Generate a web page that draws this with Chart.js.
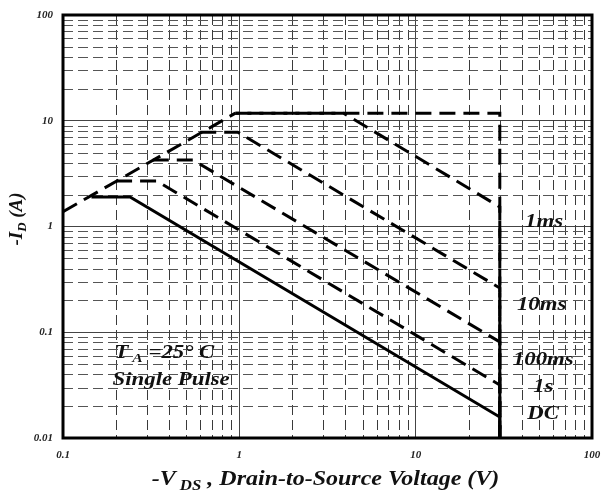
<!DOCTYPE html>
<html>
<head>
<meta charset="utf-8">
<script src="https://cdn.jsdelivr.net/npm/chart.js@4.4.0/dist/chart.umd.min.js"></script>
<style>
    html, body { margin: 0; padding: 0; background: #fff; }
    #wrap { width: 601px; height: 494px; position: relative; }
</style>
</head>
<body>
<div id="wrap"><canvas id="soaChart"></canvas></div>
<script>
// axis ticks
const xTickValues = [0.1, 1, 10, 100];
const xTickLabels = ['0.1', '1', '10', '100'];
const yTickValues = [0.01, 0.1, 1, 10, 100];
const yTickLabels = ['0.01', '0.1', '1', '10', '100'];
const minorSteps = [2, 3, 4, 5, 6, 7, 8, 9];

// curves: -V_DS (V) / -I_D (A)
const rdsLimitV = [0.1, 0.95];
const rdsLimitI = [1.38, 11.8];
const topV = [0.95, 30, 30];
const topI = [11.8, 11.8, 0.01];
const ms1V = [0.95, 3.9, 30, 30];
const ms1I = [11.8, 11.8, 1.53, 0.01];
const ms10V = [0.6, 0.98, 30, 30];
const ms10I = [7.8, 7.8, 0.262, 0.01];
const ms100V = [0.323, 0.545, 30, 30];
const ms100I = [4.26, 4.26, 0.081, 0.01];
const s1V = [0.2, 0.34, 30, 30];
const s1I = [2.69, 2.69, 0.0317, 0.01];
const dcV = [0.145, 0.24, 30, 30];
const dcI = [1.9, 1.9, 0.0158, 0.01];

// text notes, placed in data coordinates (left edge, vertical middle)
const noteTexts = ['1ms', '10ms', '100ms', '1s', 'DC', 'Single Pulse'];
const noteV = [41.7, 37.5, 35.6, 46.4, 42.9, 0.191];
const noteI = [1.10, 0.181, 0.0547, 0.0303, 0.0169, 0.0355];
const tempNoteV = 0.196;
const tempNoteI = 0.064;

const SERIF = '"Liberation Serif", "DejaVu Serif", serif';

class SoaChart {
    constructor() {
        this.canvas = document.getElementById('soaChart');
        this.chart = null;
        this.render();
    }

    points(vs, is) {
        return vs.map((v, i) => ({ x: v, y: is[i] }));
    }

    line(label, vs, is, dashed, dashOffset = 0) {
        return {
            label,
            data: this.points(vs, is),
            showLine: true,
            borderColor: '#000',
            borderWidth: 3,
            borderDash: dashed ? [16, 8] : [],
            borderDashOffset: dashOffset,
            borderCapStyle: 'butt',
            borderJoinStyle: 'miter',
            pointRadius: 0,
            tension: 0,
            fill: false
        };
    }

    minorValues(decades) {
        const out = [];
        decades.slice(0, -1).forEach(d => minorSteps.forEach(s => out.push(d * s)));
        return out;
    }

    // draws runs of text, some of them subscript; sx stretches it sideways
    drawRich(ctx, parts, x, y, size, align, sx) {
        const fontFor = p => `italic bold ${p.sub ? Math.round(size * 0.68) : size}px ${SERIF}`;
        const widths = parts.map(p => {
            ctx.font = fontFor(p);
            return ctx.measureText(p.t).width;
        });
        const total = widths.reduce((a, b) => a + b, 0);
        ctx.save();
        ctx.translate(x, y);
        ctx.scale(sx, 1);
        let cx = align === 'center' ? -total / 2 : 0;
        parts.forEach((p, i) => {
            ctx.font = fontFor(p);
            ctx.fillText(p.t, cx, p.sub ? size * 0.32 : 0);
            cx += widths[i];
        });
        ctx.restore();
    }

    decorPlugin() {
        const self = this;
        return {
            id: 'soaDecor',
            beforeDatasetsDraw(chart) {
                const { ctx, chartArea: a, scales: { x, y } } = chart;
                ctx.save();
                ctx.lineWidth = 1;
                ctx.setLineDash([10, 5]);
                ctx.strokeStyle = '#3a3a3a';
                self.minorValues(xTickValues).forEach(v => {
                    const px = Math.round(x.getPixelForValue(v)) + 0.5;
                    ctx.beginPath();
                    ctx.moveTo(px, a.top);
                    ctx.lineTo(px, a.bottom);
                    ctx.stroke();
                });
                ctx.strokeStyle = '#555';
                self.minorValues(yTickValues).forEach(v => {
                    const py = Math.round(y.getPixelForValue(v)) + 0.5;
                    ctx.beginPath();
                    ctx.moveTo(a.left, py);
                    ctx.lineTo(a.right, py);
                    ctx.stroke();
                });
                ctx.restore();
            },
            afterDraw(chart) {
                const { ctx, chartArea: a, scales: { x, y } } = chart;
                ctx.save();
                ctx.lineWidth = 3;
                ctx.strokeStyle = '#000';
                ctx.strokeRect(a.left, a.top, a.right - a.left, a.bottom - a.top);

                ctx.fillStyle = '#111';
                ctx.textBaseline = 'middle';
                ctx.textAlign = 'left';
                noteTexts.forEach((t, i) => {
                    self.drawRich(ctx, [{ t }], x.getPixelForValue(noteV[i]), y.getPixelForValue(noteI[i]), 19, 'left', 1.2);
                });
                self.drawRich(ctx, [{ t: 'T' }, { t: ' A', sub: true }, { t: ' =25' }, { t: '°' }, { t: ' C' }],
                    x.getPixelForValue(tempNoteV), y.getPixelForValue(tempNoteI), 19, 'left', 1.2);

                // axis titles
                self.drawRich(ctx, [{ t: '-V' }, { t: ' DS', sub: true }, { t: ' , Drain-to-Source Voltage (V)' }],
                    (a.left + a.right) / 2 - 2, 480, 20, 'center', 1.2);
                ctx.translate(17, 219);
                ctx.rotate(-Math.PI / 2);
                self.drawRich(ctx, [{ t: '-I' }, { t: 'D', sub: true }, { t: ' (A)' }], 0, 0, 19, 'center', 1);
                ctx.restore();
            }
        };
    }

    render() {
        const tickFont = { family: SERIF, size: 11, style: 'italic', weight: 'bold' };
        this.chart = new Chart(this.canvas.getContext('2d'), {
            type: 'scatter',
            data: {
                datasets: [
                    this.line('RDS(on) limit', rdsLimitV, rdsLimitI, true),
                    this.line('100us', topV, topI, true, 12),
                    this.line('1ms', ms1V, ms1I, true),
                    this.line('10ms', ms10V, ms10I, true),
                    this.line('100ms', ms100V, ms100I, true),
                    this.line('1s', s1V, s1I, true),
                    this.line('DC', dcV, dcI, false)
                ]
            },
            options: {
                responsive: true,
                maintainAspectRatio: false,
                animation: false,
                layout: { padding: { top: 15, right: 0, left: 0, bottom: 0 } },
                plugins: {
                    legend: { display: false },
                    tooltip: { enabled: false }
                },
                scales: {
                    x: {
                        type: 'logarithmic',
                        min: 0.1,
                        max: 100,
                        afterBuildTicks: s => { s.ticks = xTickValues.map(v => ({ value: v, major: true })); },
                        afterFit: s => { s.height = 56; s.paddingLeft = 0; s.paddingRight = 9; },
                        ticks: {
                            autoSkip: false,
                            maxRotation: 0,
                            padding: 11,
                            color: '#222',
                            font: tickFont,
                            callback: (v, i) => xTickLabels[i]
                        },
                        grid: { color: '#444', lineWidth: 1, drawTicks: false },
                        border: { display: false }
                    },
                    y: {
                        type: 'logarithmic',
                        min: 0.01,
                        max: 100,
                        afterBuildTicks: s => { s.ticks = yTickValues.map(v => ({ value: v, major: true })); },
                        afterFit: s => { s.width = 63; s.paddingTop = 0; s.paddingBottom = 0; },
                        ticks: {
                            autoSkip: false,
                            padding: 10,
                            color: '#222',
                            font: tickFont,
                            callback: (v, i) => yTickLabels[i]
                        },
                        grid: { color: '#444', lineWidth: 1, drawTicks: false },
                        border: { display: false }
                    }
                }
            },
            plugins: [this.decorPlugin()]
        });
    }
}

document.addEventListener('DOMContentLoaded', () => {
    new SoaChart();
});
</script>
</body>
</html>
